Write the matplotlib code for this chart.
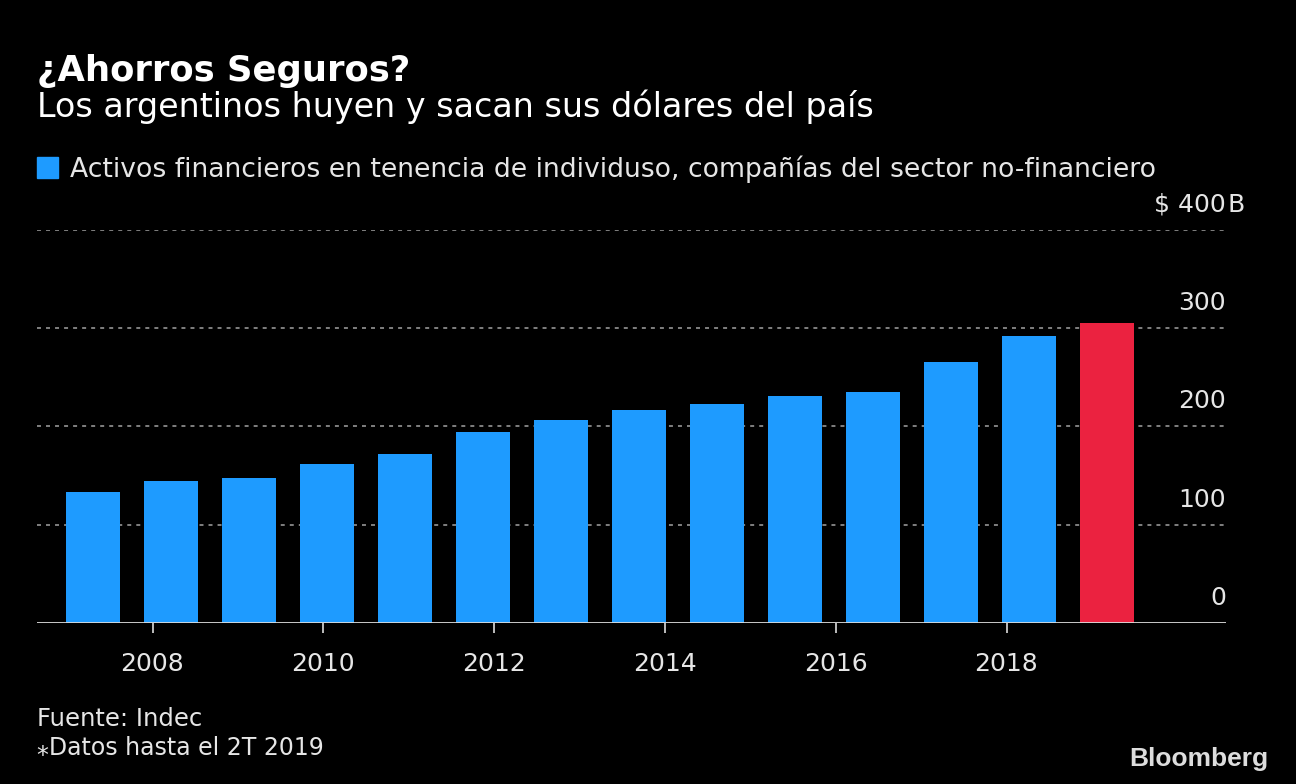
import matplotlib
matplotlib.use("Agg")
import matplotlib.pyplot as plt
import numpy as np

# --- Data ---
periods = ["2006", "2007", "2008", "2009", "2010", "2011", "2012",
           "2013", "2014", "2015", "2016", "2017", "2018", "2T 2019"]
values = [133, 145, 148, 162, 172, 194, 207, 217, 223, 231, 235, 266, 292, 305]
highlight = ["2T 2019"]
tick_years = [2008, 2010, 2012, 2014, 2016, 2018]
y_ticks = [0, 100, 200, 300, 400]
y_labels = ["0", "100", "200", "300", "$ 400B"]

# --- Style ---
W, H = 1296, 784
BG = "black"
BLUE = "#1E9BFF"
RED = "#EB2240"
TXT = "#E6E6E6"
GRID = "#8A8A8A"
plt.rcParams["font.family"] = ["DejaVu Sans"]

# bar spacing vs. year spacing in the original (pixels)
BAR_STEP = 78.0
YEAR_STEP = 85.4
FIRST_TICK_OFFSET = (152.5 - 93.0) / BAR_STEP  # 2008 tick, in bar units

fig = plt.figure(figsize=(W / 100, H / 100), dpi=100, facecolor=BG)
ax = fig.add_axes([37 / W, 1 - 623 / H, (1226 - 37) / W, (623 - 230) / H])
ax.set_facecolor(BG)

x = np.arange(len(values))
colors = [RED if p in highlight else BLUE for p in periods]
ax.bar(x, values, width=54 / BAR_STEP, color=colors, zorder=3)

ax.set_xlim((37 - 93) / BAR_STEP, (1226 - 93) / BAR_STEP)
ax.set_ylim(0, 400)

# grid
for v in y_ticks[1:]:
    ax.axhline(v, color=GRID, lw=1.3, ls=(0, (2.2, 2.8)), zorder=1)
ax.axhline(0, color="#DDDDDD", lw=2, zorder=4)

for s in ax.spines.values():
    s.set_visible(False)
ax.set_yticks([])

tick_pos = [FIRST_TICK_OFFSET + (yr - 2008) * YEAR_STEP / BAR_STEP for yr in tick_years]
ax.set_xticks(tick_pos)
ax.set_xticklabels([str(t) for t in tick_years], fontsize=18, color=TXT)
ax.tick_params(axis="x", length=7, width=1.2, color="#DDDDDD", pad=14)

for v, lab in zip(y_ticks, y_labels):
    if lab.endswith("B"):
        ax.annotate(lab[:-1], xy=(1, v), xycoords=("axes fraction", "data"),
                    xytext=(0, 13), textcoords="offset points",
                    ha="right", va="baseline", fontsize=18, color=TXT)
        ax.annotate("B", xy=(1, v), xycoords=("axes fraction", "data"),
                    xytext=(1, 13), textcoords="offset points",
                    ha="left", va="baseline", fontsize=18, color=TXT)
    else:
        ax.annotate(lab, xy=(1, v), xycoords=("axes fraction", "data"),
                    xytext=(0, 13), textcoords="offset points",
                    ha="right", va="baseline", fontsize=18, color=TXT)

# titles
fig.text(37 / W, 1 - 81 / H, "¿Ahorros Seguros?", fontsize=25.5, fontweight="bold",
         color="white", va="baseline")
fig.text(37 / W, 1 - 117 / H, "Los argentinos huyen y sacan sus dólares del país",
         fontsize=24, color="white", va="baseline")

# legend
fig.patches.append(plt.Rectangle((37 / W, 1 - 178 / H), 21 / W, 21 / H,
                                 transform=fig.transFigure, color=BLUE))
fig.text(70 / W, 1 - 177 / H,
         "Activos financieros en tenencia de individuso, compañías del sector no-financiero",
         fontsize=19.2, color=TXT, va="baseline")

# footer
fig.text(37 / W, 1 - 726 / H, "Fuente: Indec", fontsize=17.5, color=TXT, va="baseline")
fig.text(37 / W, 1 - 755 / H, "⁎Datos hasta el 2T 2019", fontsize=17, color=TXT, va="baseline")
fig.text(1268 / W, 1 - 766 / H, "Bloomberg", fontsize=19, fontweight="bold",
         family=["Liberation Sans", "DejaVu Sans"], color="#DDDDDD",
         ha="right", va="baseline")

fig.savefig("out.png", dpi=100, facecolor=BG)
